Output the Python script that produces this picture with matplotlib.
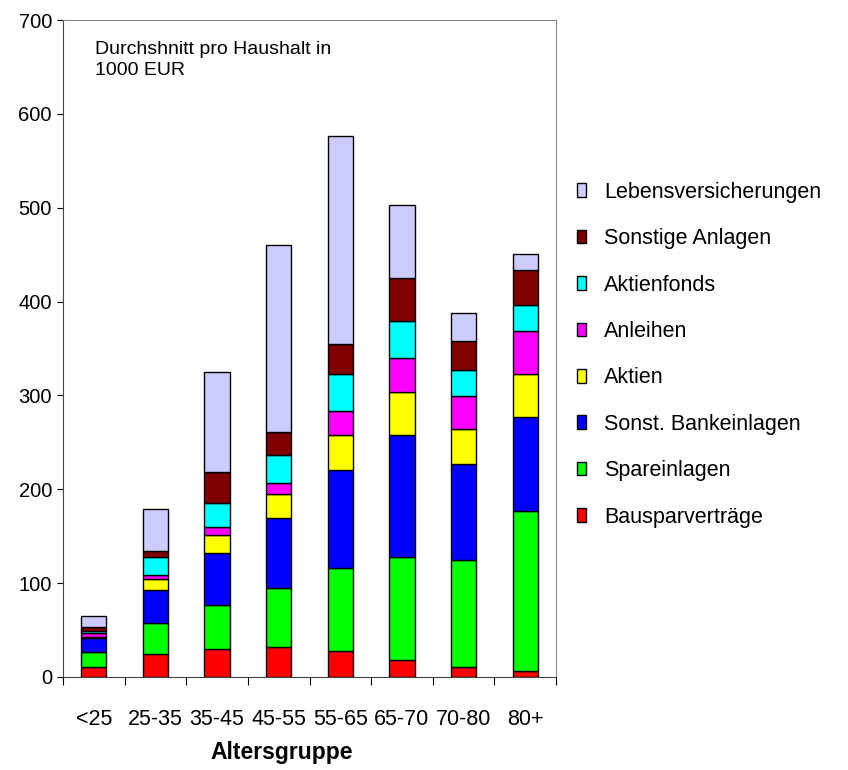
import numpy as np
import matplotlib
matplotlib.use("Agg")
import matplotlib.pyplot as plt

plt.rcParams['font.family'] = ['Liberation Sans', 'DejaVu Sans']

# Altersgruppen und Anlageformen (Durchschnitt pro Haushalt, 1000 EUR)
groups = ["<25", "25-35", "35-45", "45-55", "55-65", "65-70", "70-80", "80+"]

bausparvertraege = [11, 25, 30, 31.5, 28, 18.5, 11, 6.5]
spareinlagen = [16, 32.5, 46.5, 63, 88, 109, 114, 170]
bankeinlagen = [14.5, 35, 56, 75, 105, 130.5, 102, 100]
aktien = [1, 11.5, 18.5, 25.5, 36.5, 46, 37, 46.5]
anleihen = [4, 4.5, 9, 11.5, 25.5, 35.5, 35.5, 46]
aktienfonds = [2, 19, 25, 30, 40, 39.5, 27.5, 27.5]
sonstige = [5, 7, 33, 24.5, 32, 46.5, 30.5, 37.5]
leben = [12, 44.5, 107, 199.5, 221.5, 77, 30.5, 16.5]

series = [
    ("Bausparverträge", bausparvertraege, "#ff0000"),
    ("Spareinlagen", spareinlagen, "#00ff00"),
    ("Sonst. Bankeinlagen", bankeinlagen, "#0000ff"),
    ("Aktien", aktien, "#ffff00"),
    ("Anleihen", anleihen, "#ff00ff"),
    ("Aktienfonds", aktienfonds, "#00ffff"),
    ("Sonstige Anlagen", sonstige, "#800000"),
    ("Lebensversicherungen", leben, "#ccccff"),
]

fig = plt.figure(figsize=(8.48, 7.7), dpi=100)
ax = fig.add_axes([0.0743, 0.1208, 0.5814, 0.8532])

x = np.arange(len(groups))
bottom = np.zeros(len(groups))
handles = []
for name, vals, col in series:
    b = ax.bar(x, vals, width=0.41, bottom=bottom, color=col,
               edgecolor="black", linewidth=1.0, label=name)
    bottom += np.array(vals)
    handles.append(b)

ax.set_xlim(-0.5, 7.5)
ax.set_ylim(0, 700)
ax.set_yticks(np.arange(0, 701, 100))
ax.tick_params(axis='y', labelsize=14.5, length=4, direction='out', pad=4)

# ticks on category boundaries, labels centered under bars
ax.set_xticks(np.arange(-0.5, 8, 1))
ax.set_xticklabels([])
ax.set_xticks(x, minor=True)
ax.set_xticklabels(groups, minor=True, fontsize=15.5)
ax.tick_params(axis='x', which='major', length=6, direction='out')
ax.tick_params(axis='x', which='minor', length=0, pad=23)

for s in ['top', 'right']:
    ax.spines[s].set_color('#888888')
for s in ['left', 'bottom']:
    ax.spines[s].set_color('#444444')

ax.set_xlabel("Altersgruppe", fontsize=16.5, fontweight='bold', va='top')
ax.xaxis.set_label_coords(0.443, -0.097)

fig.text(0.112, 0.947, "Durchshnitt pro Haushalt in\n1000 EUR",
         fontsize=14, va='top', ha='left', linespacing=1.3)

leg = fig.legend(handles[::-1], [s[0] for s in series][::-1],
                 loc='upper left', bbox_to_anchor=(0.681, 0.764),
                 frameon=False, fontsize=15.5, handlelength=0.4, handleheight=0.6,
                 handletextpad=0.85, labelspacing=1.18, borderpad=0, borderaxespad=0)

fig.savefig("out.png", dpi=100)
